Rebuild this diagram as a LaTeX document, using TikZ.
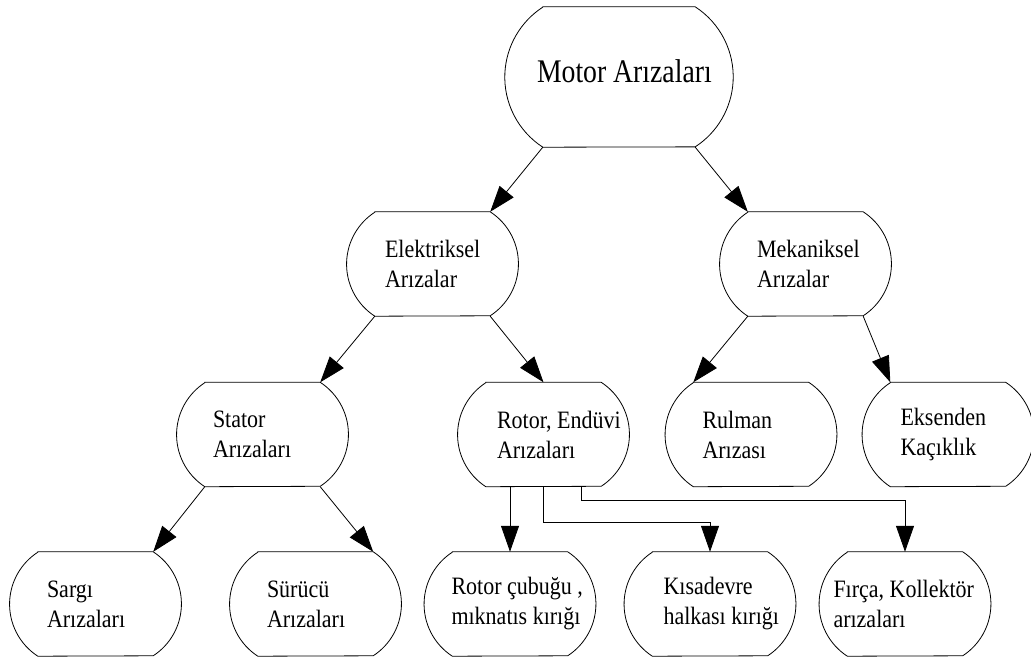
\documentclass[tikz,border=0pt]{standalone}
\usepackage{fontspec}
\setmainfont{Liberation Serif}[FakeStretch=0.88]
\newfontfamily\titleFont{Liberation Serif}[FakeStretch=0.84]
\usetikzlibrary{
  arrows.meta,
  positioning
}
\tikzset{
  faultBox/.style={minimum width=115pt, minimum height=104pt, inner sep=0pt},
  faultOutline/.style={line width=0.8pt},
  faultText/.style={
    font=\fontsize{25}{30}\selectfont,
    align=left,
    inner sep=0pt,
    anchor=west
  },
  faultArrow/.style={-{Triangle[length=26pt,width=18pt]}, line width=0.8pt}
}

\begin{document}
\begin{tikzpicture}[x=1pt,y=1pt]
  \useasboundingbox (0,0) rectangle (1031,657);

  % boxes
  \node[faultBox, minimum width=152pt, minimum height=140pt] (motor) at (619,580) {};
  \node[faultBox] (elek)   at (432.5,393) {};
  \node[faultBox] (mek)    at (805.5,393) {};
  \node[faultBox] (stator) at (262.5,222.5) {};
  \node[faultBox] (rotor)  at (543.5,222.5) {};
  \node[faultBox] (rulman) at (751,222.5) {};
  \node[faultBox] (eksen)  at (948,222.5) {};
  \node[faultBox] (sargi)  at (95.5,53) {};
  \node[faultBox] (surucu) at (315.5,53) {};
  \node[faultBox] (cubuk)  at (510,53) {};
  \node[faultBox] (kisa)   at (710,53) {};
  \node[faultBox] (firca)  at (905,53) {};

  % barrel outlines
  \draw[faultOutline] (motor.north west) -- (motor.north east)
    arc[start angle=57, end angle=-57, radius=83.5] -- (motor.south west)
    arc[start angle=237, end angle=123, radius=83.5] -- cycle;
  \foreach \n in {elek,mek,stator,rotor,rulman,eksen,sargi,surucu,cubuk,kisa,firca} {
    \draw[faultOutline] (\n.north west) -- (\n.north east)
      arc[start angle=57, end angle=-57, radius=62] -- (\n.south west)
      arc[start angle=237, end angle=123, radius=62] -- cycle;
  }

  % texts
  \node[anchor=base west, inner sep=0pt, font=\titleFont\fontsize{33}{40}\selectfont]
    (motor-t) at ([shift={(-6,-6)}]motor.west) {Motor Arızaları};
  \foreach \n/\dx/\txt in {
      elek/10/{Elektriksel\\Arızalar},
      mek/9/{Mekaniksel\\Arızalar},
      stator/8/{Stator\\Arızaları},
      rotor/11/{Rotor,~Endüvi\\Arızaları},
      rulman/9/{Rulman\\Arızası},
      eksen/10/{Eksenden\\Kaçıklık},
      sargi/9/{Sargı\\Arızaları},
      surucu/9/{Sürücü\\Arızaları},
      cubuk/-1/{Rotor~çubuğu~,\\mıknatıs~kırığı},
      kisa/11/{Kısadevre\\halkası~kırığı},
      firca/-14/{Fırça,~Kollektör\\arızaları}} {
    \node[faultText] (\n-t) at ([xshift=\dx pt]\n.west) {\txt};
  }

  % connectors
  \draw[faultArrow] (motor.south west) -- (elek.north east);
  \draw[faultArrow] (motor.south east) -- (mek.north west);
  \draw[faultArrow] (elek.south west) -- (stator.north east);
  \draw[faultArrow] (elek.south east) -- (rotor.north);
  \draw[faultArrow] (mek.south west) -- (rulman.north west);
  \draw[faultArrow] (mek.south east) -- (eksen.north west);
  \draw[faultArrow] (stator.south west) -- (sargi.north east);
  \draw[faultArrow] (stator.south east) -- (surucu.north east);
  \draw[faultArrow] (rotor.south -| cubuk.north) -- (cubuk.north);
  \draw[faultArrow] (rotor.south) -- ++(0,-36) -| (kisa.north);
  \draw[faultArrow] ([xshift=37.5pt]rotor.south) -- ++(0,-14) -| (firca.north);
\end{tikzpicture}
\end{document}
